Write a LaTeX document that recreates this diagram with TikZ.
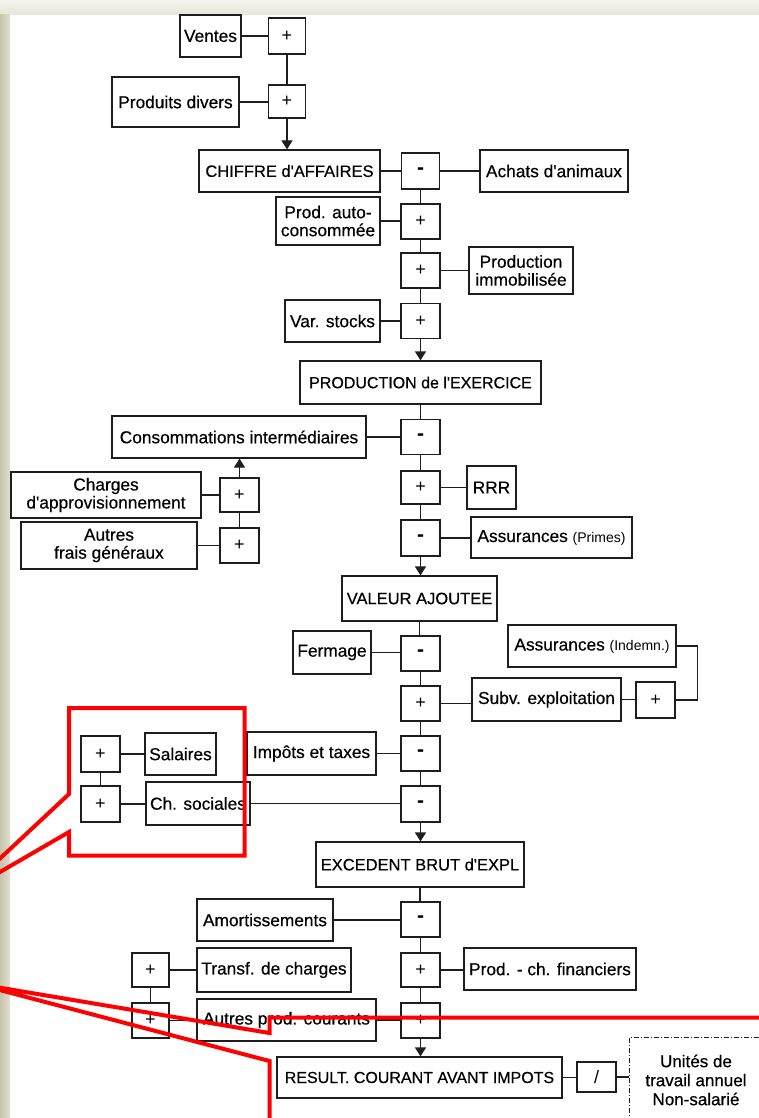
\documentclass[tikz,border=0pt]{standalone}
\usepackage{fontspec}
\setmainfont{Liberation Sans}[Ligatures=TeXOff, FakeBold=0.45]
\newfontfamily\plainf{Liberation Sans}
\usetikzlibrary{arrows.meta}
\definecolor{linec}{RGB}{30,30,30}
\definecolor{bgc}{RGB}{226,224,208}
\definecolor{bgtop}{RGB}{244,243,237}
\definecolor{bgbot}{RGB}{230,229,217}
\definecolor{bgl}{RGB}{200,197,172}
\definecolor{bgr}{RGB}{224,222,206}
\definecolor{redc}{RGB}{255,0,0}
\tikzset{
  bx/.style={draw=linec, line width=1.2pt, fill=white, inner sep=1pt, text=black,
    font=\fontsize{17.3pt}{18pt}\selectfont, align=center},
  ttl/.style={bx, font=\fontsize{16.5pt}{18pt}\selectfont},
  ttls/.style={bx, font=\fontsize{16pt}{18pt}\selectfont},
  sg/.style={bx, minimum width=39pt, minimum height=35pt, font=\plainf\fontsize{18pt}{18pt}\selectfont},
  ln/.style={draw=linec, line width=1.2pt},
  arr/.style={ln, -{Triangle[width=11pt,length=9pt]}},
  callout/.style={draw=redc, line width=4pt, line join=miter}
}
\newcommand{\mns}{{\fontsize{21pt}{21pt}\bfseries -}}
\newcommand{\sml}[1]{{\plainf\fontsize{14pt}{14pt}\selectfont #1}}
\begin{document}
\begin{tikzpicture}[x=1pt,y=-1pt]
\useasboundingbox (0,0) rectangle (759,1118);
\clip (0,0) rectangle (759,1118);
% background
\fill[bgc] (0,0) rectangle (759,1118);
\shade[top color=bgtop, bottom color=bgbot] (0,0) rectangle (759,15);
\shade[left color=bgl, right color=bgr] (0,15) rectangle (10,1118);
\fill[white] (10,15) rectangle (759,1118);

% top group
\node[bx, minimum width=61pt, minimum height=42pt] (ventes) at (210.5,36) {Ventes};
\node[sg, minimum width=37pt, minimum height=36pt] (p1) at (287,36) {+};
\node[bx, minimum width=127pt, minimum height=50pt] (pdiv) at (175.5,102) {Produits divers};
\node[sg, minimum width=37pt, minimum height=33pt] (p2) at (287,101.5) {+};
\node[ttl, minimum width=181pt, minimum height=42pt] (chiffre) at (289.5,171) {CHIFFRE d'AFFAIRES};
\node[sg, minimum width=38pt, minimum height=36pt] (m1) at (420.5,171) {\mns};
\node[bx, minimum width=148pt, minimum height=42pt] (achats) at (554,171) {Achats d'animaux};
\node[bx, minimum width=104pt, minimum height=48pt] (autoc) at (328,221) {Prod. auto-\\consommée};
\node[sg] (pac) at (420.5,221.5) {+};
\node[sg] (pim) at (420.5,270.5) {+};
\node[bx, minimum width=104pt, minimum height=47pt] (immob) at (521,270.5) {Production\\immobilisée};
\node[bx, minimum width=95pt, minimum height=42pt] (vars) at (332.5,321) {Var. stocks};
\node[sg] (pvs) at (420.5,321) {+};
\node[ttls, minimum width=241pt, minimum height=43pt] (prodex) at (420.5,382.5) {PRODUCTION de l'EXERCICE};
\node[sg] (mci) at (420.5,437) {\mns};
\node[bx, minimum width=254pt, minimum height=42pt] (ci) at (239,437) {Consommations intermédiaires};
\node[bx, minimum width=190pt, minimum height=46pt] (charges) at (106,495) {Charges\\d'approvisionnement};
\node[sg, minimum height=34pt] (pch) at (239.5,495) {+};
\node[bx, minimum width=176pt, minimum height=47pt] (afg) at (109,545.5) {Autres\\frais généraux};
\node[sg] (paf) at (239.5,545.5) {+};
\node[sg, minimum height=33pt] (prrr) at (420.5,487.5) {+};
\node[bx, minimum width=49pt, minimum height=43pt] (rrr) at (491.5,487.5) {RRR};
\node[sg, minimum height=36pt] (mas) at (420.5,538) {\mns};
\node[bx, minimum width=161pt, minimum height=41pt] (assur) at (551.5,537.5) {Assurances \sml{(Primes)}};
\node[ttl, minimum width=155pt, minimum height=45pt] (valeur) at (419.5,598.5) {VALEUR AJOUTEE};
\node[sg] (mfe) at (420.5,653.5) {\mns};
\node[bx, minimum width=78pt, minimum height=43pt] (fermage) at (332,652.5) {Fermage};
\node[sg] (psub) at (420.5,703.5) {+};
\node[bx, minimum width=149pt, minimum height=43pt] (subv) at (546.5,699.5) {Subv. exploitation};
\node[sg, minimum height=36pt] (pr) at (655.5,700) {+};
\node[bx, minimum width=168pt, minimum height=42pt] (assind) at (592,646) {Assurances \sml{(Indemn.)}};
\node[sg] (mim) at (420.5,753.5) {\mns};
\node[bx, minimum width=129pt, minimum height=43pt] (impots) at (311.5,753.5) {Impôts et taxes};
\node[sg, minimum height=36pt] (mcs) at (420.5,804) {\mns};
\node[bx, minimum width=104pt, minimum height=43pt] (chsoc) at (198,803.5) {Ch. sociales};
\node[bx, minimum width=71pt, minimum height=42pt] (salaires) at (180.5,754) {Salaires};
\node[sg, minimum height=36pt] (psal) at (100.5,754) {+};
\node[sg, minimum height=36pt] (pcs) at (100.5,804) {+};
\node[ttl, minimum width=208pt, minimum height=45pt] (exc) at (420,864.5) {EXCEDENT BRUT d'EXPL};
\node[sg] (mam) at (420.5,919.5) {\mns};
\node[bx, minimum width=136pt, minimum height=42pt] (amort) at (265,920) {Amortissements};
\node[sg, minimum height=34pt] (ppf) at (420.5,970) {+};
\node[bx, minimum width=172pt, minimum height=42pt] (prodfin) at (550,969) {Prod. - ch. financiers};
\node[sg] (pap) at (420.5,1020.5) {+};
\node[bx, minimum width=179pt, minimum height=42pt] (aprod) at (286.5,1020) {Autres prod. courants};
\node[bx, minimum width=154pt, minimum height=44pt] (transf) at (274,970) {Transf. de charges};
\node[sg, minimum width=37pt, minimum height=34pt] (ptr) at (150.5,970) {+};
\node[sg, minimum width=37pt] (pal) at (150.5,1020.5) {+};
\node[ttls, minimum width=285pt, minimum height=41pt] (result) at (419.5,1077.5) {RESULT. COURANT AVANT IMPOTS};
\node[sg, minimum height=30pt] (slash) at (596.5,1077) {/};
\node[bx, draw=none, fill=none, minimum width=132pt, minimum height=84pt,
  font=\fontsize{17pt}{19pt}\selectfont] (unites) at (696,1080) {Unités de\\travail annuel\\Non-salarié};
\draw[ln, dash pattern=on 5pt off 2pt on 1pt off 2pt] (unites.south west) rectangle (unites.north east);

% connectors: top
\draw[ln] (ventes.east) -- (ventes.east -| p1.west);
\draw[ln] (p1.south) -- (p1.south |- p2.north);
\draw[ln] (pdiv.east) -- (pdiv.east -| p2.west);
\draw[arr] (p2.south) -- (p2.south |- chiffre.north);
\draw[ln] (chiffre.east) -- (chiffre.east -| m1.west);
\draw[ln] (m1.east) -- (m1.east -| achats.west);
% main chain
\draw[ln] (m1.south) -- (m1.south |- pac.north);
\draw[ln] (pac.south) -- (pim.north);
\draw[ln] (pim.south) -- (pvs.north);
\draw[arr] (pvs.south) -- (pvs.south |- prodex.north);
\draw[ln] (prodex.south) -- (prodex.south |- mci.north);
\draw[ln] (mci.south) -- (prrr.north);
\draw[ln] (prrr.south) -- (mas.north);
\draw[arr] (mas.south) -- (mas.south |- valeur.north);
\draw[ln] (valeur.south) -- (valeur.south |- mfe.north);
\draw[ln] (mfe.south) -- (psub.north);
\draw[ln] (psub.south) -- (mim.north);
\draw[ln] (mim.south) -- (mcs.north);
\draw[arr] (mcs.south) -- (mcs.south |- exc.north);
\draw[ln] (exc.south) -- (exc.south |- mam.north);
\draw[ln] (mam.south) -- (ppf.north);
\draw[ln] (ppf.south) -- (pap.north);
\draw[arr] (pap.south) -- (pap.south |- result.north);
% side inputs
\draw[ln] (autoc.east) -- (autoc.east -| pac.west);
\draw[ln] (pim.east) -- (pim.east -| immob.west);
\draw[ln] (vars.east) -- (vars.east -| pvs.west);
\draw[ln] (ci.east) -- (ci.east -| mci.west);
\draw[ln] (charges.east) -- (charges.east -| pch.west);
\draw[ln] (afg.east) -- (afg.east -| paf.west);
\draw[ln] (paf.north) -- (pch.south);
\draw[arr] (pch.north) -- (pch.north |- ci.south);
\draw[ln] (prrr.east) -- (prrr.east -| rrr.west);
\draw[ln] (mas.east) -- (mas.east -| assur.west);
\draw[ln] (fermage.east) -- (fermage.east -| mfe.west);
\draw[ln] (psub.east) -- (psub.east -| subv.west);
\draw[ln] (subv.east) -- (subv.east -| pr.west);
\draw[ln] (assind.east) -- ++(21,0) |- (pr.east);
\draw[ln] (impots.east) -- (impots.east -| mim.west);
\draw[ln] (chsoc.east) -- (chsoc.east -| mcs.west);
\draw[ln] (psal.east) -- (psal.east -| salaires.west);
\draw[ln] (pcs.east) -- (pcs.east -| chsoc.west);
\draw[ln] (psal.south) -- (pcs.north);
\draw[ln] (amort.east) -- (amort.east -| mam.west);
\draw[ln] (ppf.east) -- (ppf.east -| prodfin.west);
\draw[ln] (aprod.east) -- (aprod.east -| pap.west);
\draw[ln] (ptr.east) -- (ptr.east -| transf.west);
\draw[ln] (pal.east) -- (pal.east -| aprod.west);
\draw[ln] (ptr.south) -- (pal.north);
\draw[ln] (result.east) -- (result.east -| slash.west);
\draw[ln] (slash.east) -- (slash.east -| unites.west);

% red callouts
\draw[callout] (-38,894) -- (69,794) -- (69,708) -- (244.5,708) -- (244.5,855.5) -- (69,855.5) -- (69,832) -- cycle;
\draw[callout] (-25,983.5) -- (269.5,1033) -- (269.5,1017.5) -- (800,1017.5) -- (800,1140) -- (269.5,1140) -- (269.5,1061) -- cycle;
\end{tikzpicture}
\end{document}
